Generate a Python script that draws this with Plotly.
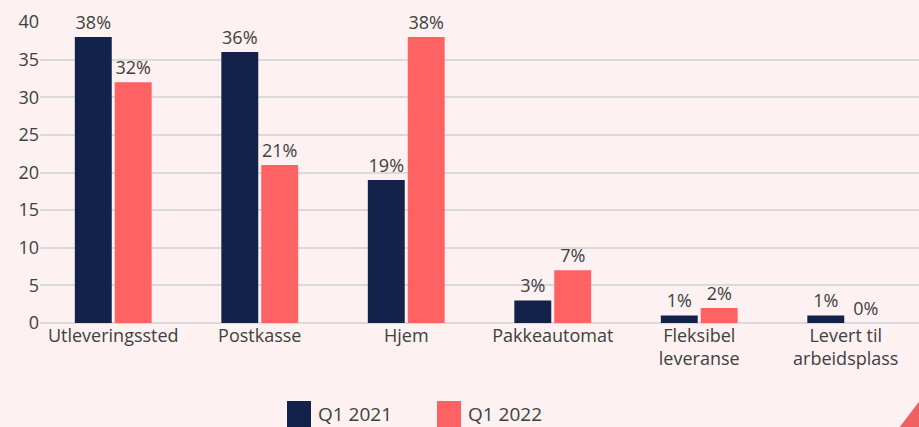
import plotly.graph_objects as go

categories = ["Utleveringssted", "Postkasse", "Hjem", "Pakkeautomat",
              "Fleksibel<br>leveranse", "Levert til<br>arbeidsplass"]
q1_2021 = [38, 36, 19, 3, 1, 1]
q1_2022 = [32, 21, 38, 7, 2, 0]
series_names = ["Q1 2021", "Q1 2022"]
y_ticks = [0, 5, 10, 15, 20, 25, 30, 35, 40]

NAVY = "#13224A"
CORAL = "#FF6262"
BG = "#FDF1F1"
FONT = "Open Sans"
TXT = "#404040"

# plot area in pixels: x 40..921, y 22..323
L, R, T, B = 40, 919, 22, 323


def px(x):
    return (x - L) / (R - L)


def py(y):
    return (B - y) / (B - T)


fig = go.Figure()
for name, vals, col in [(series_names[0], q1_2021, NAVY), (series_names[1], q1_2022, CORAL)]:
    fig.add_trace(go.Bar(
        x=categories, y=vals, name=name,
        marker=dict(color=col, line=dict(width=0)),
        text=[f"{v}%" for v in vals], textposition="outside",
        textfont=dict(size=18, color=TXT, family=FONT),
        cliponaxis=False, showlegend=False,
    ))

shapes = []
annotations = []
legend_items = [(series_names[0], NAVY, 287, 311, 316), (series_names[1], CORAL, 437, 461, 466)]
for name, col, x0, x1, tx in legend_items:
    shapes.append(dict(type="rect", xref="paper", yref="paper",
                       x0=px(x0), x1=px(x1), y0=py(440), y1=py(401),
                       fillcolor=col, line=dict(width=0)))
    annotations.append(dict(text=name, xref="paper", yref="paper", x=px(tx), y=py(414),
                            xanchor="left", yanchor="middle", showarrow=False,
                            font=dict(size=19, color=TXT, family=FONT)))

shapes.append(dict(type="path", xref="paper", yref="paper",
                   path=f"M {px(919.5)} {py(401)} L {px(899)} {py(428)} L {px(919.5)} {py(428)} Z",
                   fillcolor="#F06060", line=dict(width=0), layer="above"))

fig.update_layout(
    width=919, height=427,
    margin=dict(l=L, r=919 - R, t=T, b=427 - B, autoexpand=False),
    paper_bgcolor=BG, plot_bgcolor=BG,
    barmode="group", bargap=0.455, bargroupgap=0.075,
    font=dict(family=FONT, color=TXT),
    showlegend=False,
    xaxis=dict(tickfont=dict(size=18, color=TXT, family=FONT),
               showline=False, ticks="", showgrid=False),
    yaxis=dict(range=[0, 40], tickvals=y_ticks, showgrid=True, gridcolor="#DADADA",
               gridwidth=1.5, zeroline=True, zerolinecolor="#DADADA", zerolinewidth=1.5,
               tickfont=dict(size=18, color=TXT, family=FONT), ticks="", ticklen=0),
    shapes=shapes,
    annotations=annotations,
)

fig.write_html("out.html", config={"displayModeBar": False},
               post_script="document.body.style.margin='0';document.body.style.background='" + BG + "';")
